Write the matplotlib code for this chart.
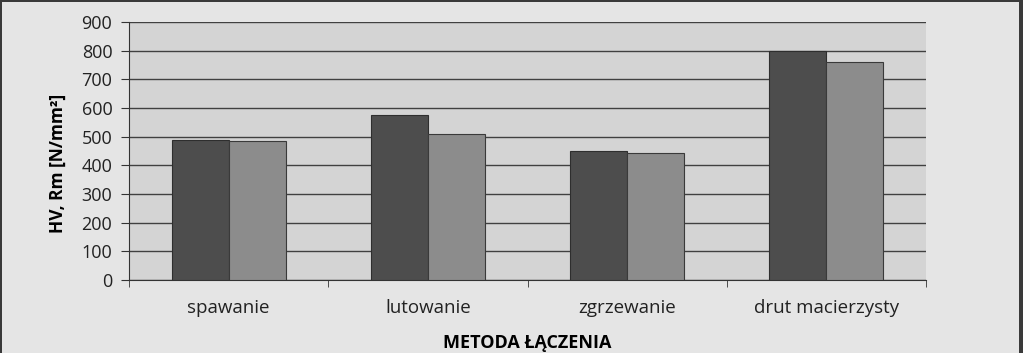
import matplotlib
matplotlib.use('Agg')
import matplotlib.pyplot as plt
import numpy as np
from matplotlib.patches import Rectangle

# Chart data
categories = ['spawanie', 'lutowanie', 'zgrzewanie', 'drut macierzysty']
hv = [488, 576, 450, 800]
rm = [485, 509, 443, 760]
yticks = [0, 100, 200, 300, 400, 500, 600, 700, 800, 900]

plt.rcParams['font.family'] = ['Open Sans', 'DejaVu Sans']

fig = plt.figure(figsize=(10.23, 3.53), dpi=100)
fig.patch.set_facecolor('#e5e5e5')

# dark frame round the figure (top, left, right)
W, H = 1023, 353
for x, y, w, h in [(0, H - 2, W, 2), (0, 0, 2, H), (W - 4, 0, 4, H)]:
    fig.patches.append(Rectangle((x / W, y / H), w / W, h / H,
                                 transform=fig.transFigure,
                                 facecolor='#3a3a3a', edgecolor='none'))

ax = fig.add_axes([129 / W, 1 - 280 / H, (926 - 129) / W, (280 - 22) / H])
ax.set_facecolor('#d4d4d4')

x = np.arange(len(categories))
w = 0.286
ax.bar(x - w / 2, hv, w, color='#4d4d4d', edgecolor='#2e2e2e', linewidth=0.8, zorder=3)
ax.bar(x + w / 2, rm, w, color='#8c8c8c', edgecolor='#3a3a3a', linewidth=0.8, zorder=3)

ax.set_xlim(-0.5, len(categories) - 0.5)
ax.set_ylim(0, 900)
ax.set_yticks(yticks)
ax.yaxis.grid(True, color='#404040', linewidth=1, zorder=1)

ax.set_xticks(x)
ax.set_xticklabels(categories, fontsize=13.5, color='#222222')
ax.set_xticks(np.arange(len(categories) + 1) - 0.5, minor=True)
ax.tick_params(axis='x', which='major', length=0, pad=14)
ax.tick_params(axis='x', which='minor', length=5, direction='out', color='#333333')
ax.tick_params(axis='y', labelsize=13, labelcolor='#222222', length=6,
               color='#333333', pad=6)

for s in ['top', 'right']:
    ax.spines[s].set_visible(False)
ax.spines['left'].set_color('#333333')
ax.spines['bottom'].set_color('#333333')

ax.set_ylabel('HV, Rm [N/mm²]', fontsize=12.5, fontweight='bold')
ax.yaxis.set_label_coords(-0.078, 0.453)
ax.set_xlabel('METODA ŁĄCZENIA', fontsize=13, fontweight='bold', labelpad=12)

fig.savefig('out.png', dpi=100, facecolor=fig.get_facecolor())
